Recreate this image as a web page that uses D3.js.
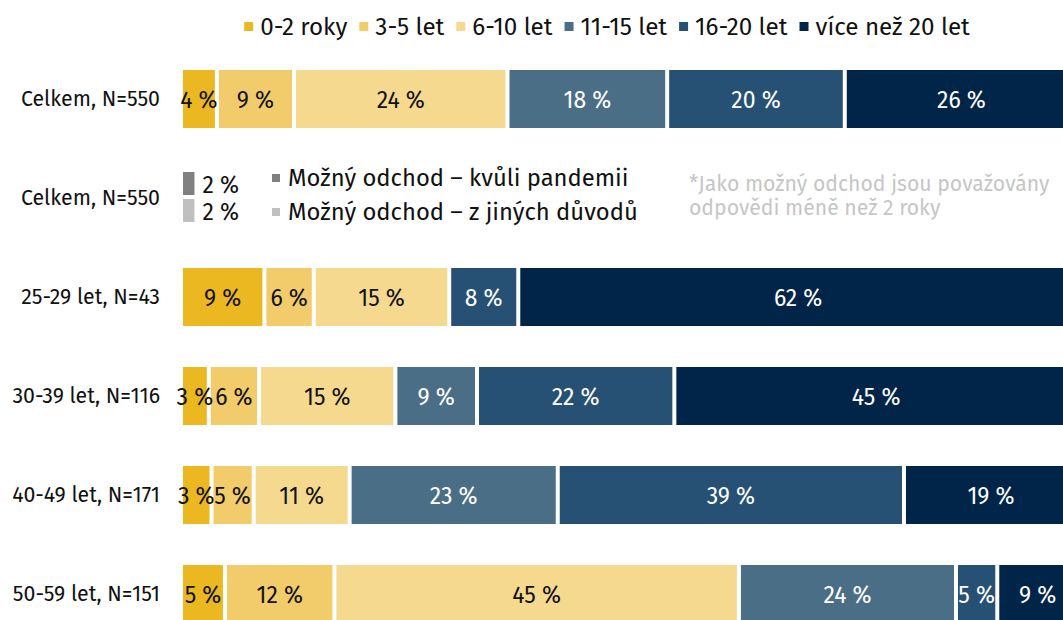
<!DOCTYPE html>
<html>
<head>
<meta charset="utf-8">
<script src="https://cdn.jsdelivr.net/npm/d3@7"></script>
<style>
  body { margin: 0; background: #fff; }
  svg { display: block; font-family: "Fira Sans", "Noto Sans", sans-serif; }
</style>
</head>
<body>
<div id="chart"></div>
<script>
const width = 1063;
const height = 620;

// categories (legend order = stack order)
const categories = ["0-2 roky", "3-5 let", "6-10 let", "11-15 let", "16-20 let", "více než 20 let"];
const colors = ["#ECB822", "#F2CC6B", "#F5D98E", "#4B6E87", "#275174", "#012549"];

// row labels, top to bottom
const rowLabels = ["Celkem, N=550", "Celkem, N=550 ", "25-29 let, N=43", "30-39 let, N=116", "40-49 let, N=171", "50-59 let, N=151"];

// shares in % per row
const celkem = [4.0, 8.6, 23.8, 17.8, 19.8, 26.0];
const age25_29 = [9.3, 5.5, 15.1, 0, 7.7, 62.4];
const age30_39 = [3.1, 5.6, 15.2, 9.1, 22.0, 45.0];
const age40_49 = [3.4, 4.7, 10.7, 23.2, 38.6, 19.4];
const age50_59 = [4.9, 12.2, 45.1, 24.2, 4.6, 9.0];

// second row: possible leaving
const leaveLabels = ["Možný odchod – kvůli pandemii", "Možný odchod – z jiných důvodů"];
const leaveValues = [1.5, 1.5];
const leaveColors = ["#808080", "#C0C0C0"];
const noteLines = ["*Jako možný odchod jsou považovány", "odpovědi méně než 2 roky"];

const stackRows = [
    { label: rowLabels[0], values: celkem },
    { label: rowLabels[2], values: age25_29 },
    { label: rowLabels[3], values: age30_39 },
    { label: rowLabels[4], values: age40_49 },
    { label: rowLabels[5], values: age50_59 }
];

const svg = d3.select("#chart")
    .append("svg")
    .attr("width", width)
    .attr("height", height);

const xScale = d3.scaleLinear()
    .domain([0, 100])
    .range([181, 1078]);

const yScale = d3.scalePoint()
    .domain(rowLabels)
    .range([99, 594]);

const barH = 58;
const gap = 2;

// row labels
svg.append("g")
    .selectAll("text")
    .data(rowLabels)
    .enter()
    .append("text")
    .attr("x", 160)
    .attr("y", d => yScale(d))
    .attr("text-anchor", "end")
    .attr("dominant-baseline", "central")
    .attr("font-size", 21.3)
    .attr("fill", "#111")
    .text(d => d.trim());

// stacked bars
stackRows.forEach(row => {
    let acc = 0;
    const segs = row.values.map((v, i) => {
        const s = { start: acc, end: acc + v, value: v, i: i };
        acc += v;
        return s;
    }).filter(s => s.value > 0);

    const g = svg.append("g");
    const cy = yScale(row.label);

    g.selectAll("rect")
        .data(segs)
        .enter()
        .append("rect")
        .attr("x", d => xScale(d.start) + gap)
        .attr("y", cy - barH / 2)
        .attr("width", d => xScale(d.end) - xScale(d.start) - gap * 2)
        .attr("height", barH)
        .attr("fill", d => colors[d.i]);

    g.selectAll("text")
        .data(segs)
        .enter()
        .append("text")
        .attr("x", d => (xScale(d.start) + xScale(d.end)) / 2)
        .attr("y", cy + 1)
        .attr("text-anchor", "middle")
        .attr("dominant-baseline", "central")
        .attr("font-size", 23)
        .attr("fill", d => d.i >= 3 ? "#fff" : "#111")
        .text(d => Math.round(d.value) + " %");
});

// second row - two thin grey bars
const cy2 = yScale(rowLabels[1]);
const leave = svg.append("g");
leave.selectAll("rect")
    .data(leaveValues)
    .enter()
    .append("rect")
    .attr("x", xScale(0) + gap)
    .attr("y", (d, i) => i == 0 ? cy2 - 26 : cy2 + 1)
    .attr("width", d => xScale(d) - xScale(0) - gap)
    .attr("height", 23)
    .attr("fill", (d, i) => leaveColors[i]);

leave.selectAll("text.val")
    .data(leaveValues)
    .enter()
    .append("text")
    .attr("class", "val")
    .attr("x", d => xScale(d) + 8)
    .attr("y", (d, i) => i == 0 ? cy2 - 13 : cy2 + 14)
    .attr("dominant-baseline", "central")
    .attr("font-size", 23)
    .attr("fill", "#111")
    .text(d => Math.round(d) + " %");

// legend for grey bars
leaveLabels.forEach((t, i) => {
    const ly = i == 0 ? cy2 - 20 : cy2 + 14;
    leave.append("rect")
        .attr("x", 272)
        .attr("y", ly - 4)
        .attr("width", 8)
        .attr("height", 8)
        .attr("fill", leaveColors[i]);
    leave.append("text")
        .attr("x", 288)
        .attr("y", ly)
        .attr("dominant-baseline", "central")
        .attr("font-size", 23.8)
        .attr("fill", "#111")
        .text(t);
});

// note
svg.append("g")
    .selectAll("text")
    .data(noteLines)
    .enter()
    .append("text")
    .attr("x", 689)
    .attr("y", (d, i) => 184 + i * 24)
    .attr("dominant-baseline", "central")
    .attr("font-size", 21.2)
    .attr("fill", "#C6C6C6")
    .text(d => d);

// top legend
const legend = svg.append("g");
let lx = 0;
categories.forEach((c, i) => {
    const item = legend.append("g").attr("transform", `translate(${lx},0)`);
    item.append("rect")
        .attr("x", 0)
        .attr("y", 22)
        .attr("width", 9)
        .attr("height", 9)
        .attr("fill", colors[i]);
    const t = item.append("text")
        .attr("x", 16)
        .attr("y", 26)
        .attr("dominant-baseline", "central")
        .attr("font-size", 24.2)
        .attr("fill", "#111")
        .text(c);
    lx += 16 + t.node().getComputedTextLength() + 12;
});
const legendW = lx - 12;
legend.attr("transform", `translate(${607 - legendW / 2},0)`);
</script>
</body>
</html>
